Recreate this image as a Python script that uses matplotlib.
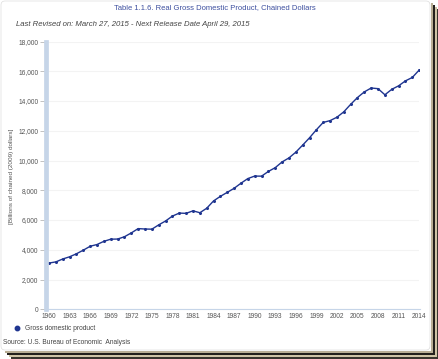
import matplotlib
matplotlib.use('Agg')
import matplotlib.pyplot as plt
import matplotlib.patches as mpatches

# Data
# ----

years = list(range(1960, 2015))
gdp = [3108.7, 3188.1, 3383.1, 3530.4, 3734.0, 3976.7, 4238.0, 4355.2,
       4569.0, 4712.5, 4722.0, 4877.6, 5134.3, 5424.1, 5396.0, 5385.4,
       5675.4, 5937.0, 6267.2, 6466.2, 6450.4, 6617.7, 6491.3, 6792.0,
       7285.0, 7593.8, 7860.5, 8132.6, 8474.5, 8786.4, 8955.0, 8948.4,
       9266.6, 9521.0, 9905.4, 10174.8, 10561.0, 11034.9, 11525.9, 12065.9,
       12559.7, 12682.2, 12908.8, 13271.1, 13773.5, 14234.2, 14613.8,
       14873.7, 14830.4, 14418.7, 14783.8, 15020.6, 15354.6, 15583.3,
       16080.0]
xticks = list(range(1960, 2015, 3))
yticks = list(range(0, 18001, 2000))

title = 'Table 1.1.6. Real Gross Domestic Product, Chained Dollars'
subtitle = 'Last Revised on: March 27, 2015 - Next Release Date April 29, 2015'
ylabel = '[Billions of chained (2009) dollars]'
series = 'Gross domestic product'
source = 'Source: U.S. Bureau of Economic  Analysis'

# Figure
# ------

W, H = 439, 359
plt.rcParams['font.family'] = ['Liberation Sans', 'DejaVu Sans']
fig = plt.figure(figsize=(W/100, H/100), dpi=100, facecolor='white')

# background frame with shadow stripes (pixel coordinates)
bg = fig.add_axes([0, 0, 1, 1], zorder=-1)
bg.set_xlim(0, W)
bg.set_ylim(H, 0)
bg.axis('off')
bands = [(0, 1.8, '#b9ae95'), (1.8, 4.0, '#23201c'),
         (4.0, 5.8, '#cfc4a6'), (5.8, 8.0, '#3a352e')]
for a, b, c in bands:
    bg.add_patch(mpatches.Rectangle((431+a, 3+a), b-a, 351-3-a+b,
                                    fc=c, ec='none'))
    bg.add_patch(mpatches.Rectangle((5+a, 351+a), 431-5-a+b, b-a,
                                    fc=c, ec='none'))
bg.add_patch(mpatches.FancyBboxPatch((1, 1), 429, 349,
                                     boxstyle='round,pad=0,rounding_size=4',
                                     fc='white', ec='#dddddd', lw=0.5))


def px(x, y):
    return x/W, 1-y/H


# plot area
left, right, top, bottom = 46, 419.5, 41.5, 309.3
ax = fig.add_axes([left/W, 1-bottom/H, (right-left)/W, (bottom-top)/H])
ax.plot(years, gdp, color='#1f3590', lw=1.0, marker='o', ms=1.2,
        solid_joinstyle='round')
ax.set_xlim(1959.55, 2014.05)
ax.set_ylim(0, 18000)
ax.set_xticks(xticks)
ax.set_yticks(yticks)
ax.set_yticklabels(['{:,}'.format(v) for v in yticks])
ax.grid(axis='y', color='#f3f3f3', lw=0.8)
ax.set_axisbelow(True)
for s in ('top', 'right'):
    ax.spines[s].set_visible(False)
ax.spines['left'].set_color('#c6d5e8')
ax.spines['left'].set_linewidth(3.4)
ax.spines['bottom'].set_color('#c6d5e8')
ax.spines['bottom'].set_linewidth(0.8)
ax.tick_params(axis='y', labelsize=4.8, labelcolor='#555555',
               color='#aaaaaa', length=4.6, width=0.5, pad=0.8)
ax.tick_params(axis='x', labelsize=4.8, labelcolor='#555555',
               length=0, pad=3)

# texts
fig.text(*px(215, 8), title, ha='center', va='center', fontsize=5.5,
         color='#3d4f9f')
fig.text(*px(16, 24), subtitle, ha='left', va='center', fontsize=5.6,
         color='#444444', style='italic')
fig.text(*px(12, 176), ylabel, ha='center', va='center', fontsize=4.6,
         color='#555555', rotation=90)
bg.plot([17], [328], 'o', color='#1f3590', ms=3.2)
fig.text(*px(25, 328), series, ha='left', va='center', fontsize=4.8,
         color='#444444')
fig.text(*px(3, 343), source, ha='left', va='center', fontsize=4.8,
         color='#444444')

fig.savefig('out.png', dpi=100, facecolor='white')
